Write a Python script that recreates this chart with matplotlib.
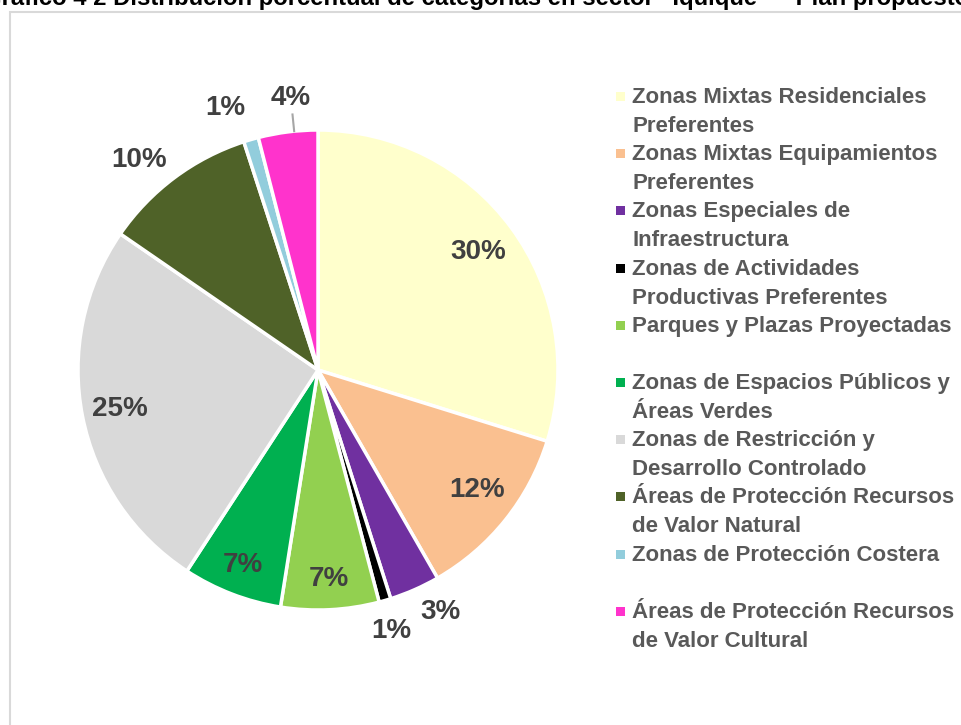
import numpy as np
import matplotlib.pyplot as plt
from matplotlib.patches import Rectangle

categorias = [
    "Zonas Mixtas Residenciales\nPreferentes",
    "Zonas Mixtas Equipamientos\nPreferentes",
    "Zonas Especiales de\nInfraestructura",
    "Zonas de Actividades\nProductivas Preferentes",
    "Parques y Plazas Proyectadas",
    "Zonas de Espacios Públicos y\nÁreas Verdes",
    "Zonas de Restricción y\nDesarrollo Controlado",
    "Áreas de Protección Recursos\nde Valor Natural",
    "Zonas de Protección Costera",
    "Áreas de Protección Recursos\nde Valor Cultural",
]
porcentajes = [29.8, 11.9, 3.4, 0.8, 6.6, 6.7, 25.4, 10.4, 1.0, 4.0]
colores = ["#FFFFCC", "#FAC090", "#7030A0", "#000000", "#92D050",
           "#00B050", "#D9D9D9", "#4F6228", "#92CDDC", "#FF33CC"]
# distancia radial y giro (grados) de cada etiqueta
dist_etiqueta = [0.83, 0.83, 1.13, 1.13, 0.87, 0.87, 0.84, 1.15, 1.16, 1.14]
giro_etiqueta = [0, 1.5, 3, -0.5, 0, 0, 0, 3.6, 3.3, -1.5]

FUENTE = ["Liberation Sans Narrow", "Liberation Sans", "DejaVu Sans"]
GRIS_TXT = "#595959"

fig = plt.figure(figsize=(9.61, 7.25), dpi=100)

# marco del gráfico
fig.patches.append(Rectangle((10 / 961, -0.01), 1.0, (725 - 12) / 725 + 0.01,
                             transform=fig.transFigure, fill=False,
                             edgecolor="#D9D9D9", linewidth=1.5))

# título cortado en el borde superior
fig.text(-17 / 961, 1 - 5 / 725,
         "Gráfico 4 2 Distribución porcentual de categorías en sector “Iquique” – Plan propuesto",
         ha="left", va="baseline", fontsize=17.2, fontweight="bold", family=FUENTE, color="black")

ax = fig.add_axes([78 / 961, (725 - 370 - 240) / 725, 480 / 961, 480 / 725])
wedges, _ = ax.pie(porcentajes, colors=colores, startangle=90, counterclock=False,
                   radius=1.0, wedgeprops=dict(edgecolor="white", linewidth=2.5))
ax.set_xlim(-1, 1)
ax.set_ylim(-1, 1)
ax.set_aspect("equal")
ax.axis("off")

for w, val, d, g in zip(wedges, porcentajes, dist_etiqueta, giro_etiqueta):
    ang = np.deg2rad((w.theta1 + w.theta2) / 2 + g)
    ax.text(d * np.cos(ang), d * np.sin(ang), f"{round(val)}%", ha="center", va="center",
            fontsize=20, fontweight="bold", family=FUENTE, color="#404040", clip_on=False)

# línea guía de la etiqueta 4%
w = wedges[-1]
ang = np.deg2rad((w.theta1 + w.theta2) / 2 - 1.5)
ax.plot([1.0 * np.cos(ang), 1.07 * np.cos(ang)], [1.0 * np.sin(ang), 1.07 * np.sin(ang)],
        color="#A6A6A6", linewidth=1.5, clip_on=False)

# leyenda
y0 = 97
paso = 57.2
for i, (cat, col) in enumerate(zip(categorias, colores)):
    y = y0 + i * paso
    fig.patches.append(Rectangle((616 / 961, 1 - (y + 4) / 725), 9 / 961, 9 / 725,
                                 transform=fig.transFigure, facecolor=col, edgecolor="none"))
    fig.text(632 / 961, 1 - (y - 10) / 725, cat, ha="left", va="top", fontsize=16,
             fontweight="bold", family=FUENTE, color=GRIS_TXT, linespacing=1.5)

fig.savefig("out.png", dpi=100)
